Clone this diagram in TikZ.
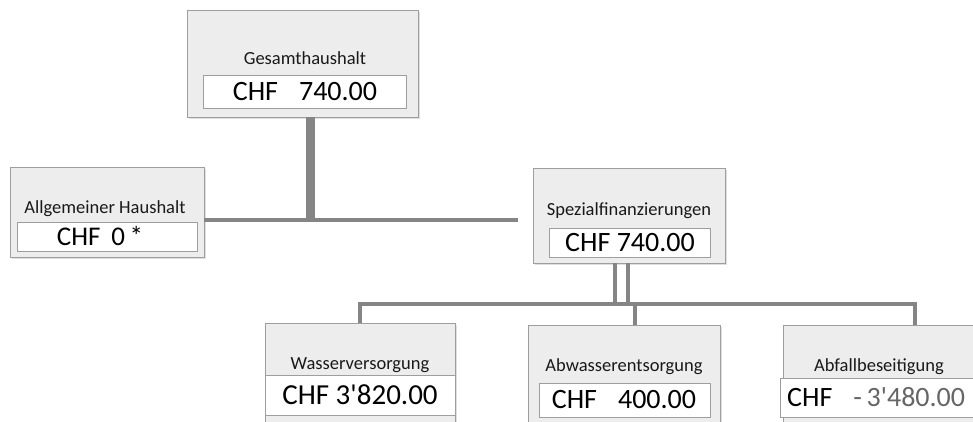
\documentclass[tikz,border=0pt]{standalone}
\usepackage{fontspec}
\setmainfont{Carlito}[Ligatures=TeXOff]
\usetikzlibrary{shadows}
\definecolor{boxfill}{HTML}{EDEDED}
\definecolor{boxline}{HTML}{9E9E9E}
\definecolor{connc}{HTML}{858585}
\tikzset{
  outerbox/.style={draw=boxline, line width=0.8pt, fill=boxfill, rectangle, inner sep=0pt,
    drop shadow={shadow xshift=1.5pt, shadow yshift=-1.5pt, opacity=0.25}},
  innerbox/.style={draw=boxline, line width=0.8pt, fill=white, rectangle, inner sep=0pt},
  titletext/.style={font=\fontsize{18.5}{21}\selectfont, text=black!90, inner sep=0pt},
  valuetext/.style={font=\fontsize{28}{32}\selectfont, text=black, inner sep=0pt},
  thickconn/.style={draw=connc, line width=9pt},
  conn/.style={draw=connc, line width=4pt},
}
\begin{document}
\begin{tikzpicture}[x=1pt,y=-1pt]
\clip (0,0) rectangle (973,421);
\useasboundingbox (0,0) rectangle (973,421);
% junction points of the connectors
\coordinate (j1) at (310,220);
\coordinate (hend) at (518,220);
\coordinate (b1) at (615,304);
\coordinate (b2) at (628,304);
\coordinate (hl) at (360,304);
\coordinate (hm) at (635,304);
\coordinate (hr) at (915,304);
% boxes
\node[outerbox, minimum width=231pt, minimum height=107pt] (gesamt) at (302.5,63.5) {};
\node[innerbox, minimum width=203pt, minimum height=33pt] (gesamtv) at (304.5,91.5) {};
\node[titletext] (gesamtt) at (305,58) {Gesamthaushalt};
\node[valuetext] (gesamtn) at (305,91.5) {CHF\hspace{0.75em}740.00};

\node[outerbox, minimum width=194pt, minimum height=90pt] (allg) at (107,212) {};
\node[innerbox, minimum width=180pt, minimum height=29pt] (allgv) at (107,236.5) {};
\node[titletext] (allgt) at (105,209) {Allgemeiner Haushalt};
\node[valuetext, font=\fontsize{27}{30}\selectfont] (allgn) at (100,236.5) {CHF\hspace{0.4em}0\,*};

\node[outerbox, minimum width=192pt, minimum height=95pt] (spez) at (629,215.5) {};
\node[innerbox, minimum width=161pt, minimum height=29pt] (spezv) at (629.5,242.5) {};
\node[titletext] (spezt) at (629,211) {Spezialfinanzierungen};
\node[valuetext] (spezn) at (630,242.5) {CHF 740.00};

\node[outerbox, minimum width=190pt, minimum height=107pt] (wasser) at (360,376.5) {};
\node[innerbox, minimum width=190pt, minimum height=40pt] (wasserv) at (360,395) {};
\node[titletext] (wassert) at (360,365) {Wasserversorgung};
\node[valuetext, font=\fontsize{29}{32}\selectfont] (wassern) at (360,395) {CHF 3'820.00};

\node[outerbox, minimum width=192pt, minimum height=105pt] (abw) at (624,377.5) {};
\node[innerbox, minimum width=171pt, minimum height=34pt] (abwv) at (624.5,400) {};
\node[titletext] (abwt) at (624,367) {Abwasserentsorgung};
\node[valuetext] (abwn) at (624,400) {CHF\hspace{0.75em}400.00};

\node[outerbox, minimum width=207pt, minimum height=105pt] (abf) at (886.5,377.5) {};
\node[innerbox, minimum width=210pt, minimum height=39pt] (abfv) at (885,397.5) {};
\node[titletext] (abft) at (879,367) {Abfallbeseitigung};
\node[valuetext, anchor=west] (abfn) at (787,397.5) {CHF\hspace{0.75em}\textcolor{black!60}{-\,3'480.00}};

% connectors
\draw[thickconn] (gesamt.south -| j1) -- (j1);
\draw[conn] (allg.east |- j1) -- (hend);
\draw[conn] (spez.south -| b1) -- (b1);
\draw[conn] (spez.south -| b2) -- (b2);
\draw[conn] ([xshift=-2pt]hl) -- ([xshift=2pt]hr);
\draw[conn] ([yshift=-2pt]hl) -- (hl |- wasser.north);
\draw[conn] (hm) -- (hm |- abw.north);
\draw[conn] ([yshift=-2pt]hr) -- (hr |- abf.north);
\end{tikzpicture}
\end{document}
